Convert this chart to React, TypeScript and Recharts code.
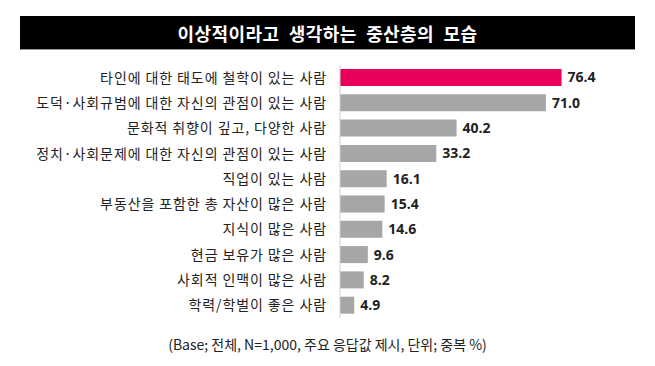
import { BarChart, Bar, XAxis, YAxis, Cell, LabelList } from "recharts";

const categories = [
  "타인에 대한 태도에 철학이 있는 사람",
  "도덕·사회규범에 대한 자신의 관점이 있는 사람",
  "문화적 취향이 깊고, 다양한 사람",
  "정치·사회문제에 대한 자신의 관점이 있는 사람",
  "직업이 있는 사람",
  "부동산을 포함한 총 자산이 많은 사람",
  "지식이 많은 사람",
  "현금 보유가 많은 사람",
  "사회적 인맥이 많은 사람",
  "학력/학벌이 좋은 사람",
];

const values = [76.4, 71.0, 40.2, 33.2, 16.1, 15.4, 14.6, 9.6, 8.2, 4.9];

const title = "이상적이라고 생각하는 중산층의 모습";
const note = "(Base; 전체, N=1,000, 주요 응답값 제시, 단위; 중복 %)";

const data = categories.map((name, i) => ({ name, value: values[i] }));

const KR = '"Noto Sans CJK KR", "Noto Sans", sans-serif';

export default function App() {
  return (
    <div
      style={{
        position: "fixed",
        left: 0,
        top: 0,
        width: 655,
        height: 366,
        background: "#fff",
        fontFamily: KR,
      }}
    >
      <div
        style={{
          position: "absolute",
          left: 20,
          top: 16,
          width: 615,
          height: 33,
          background: "#000",
          borderBottom: "1px solid #999",
          color: "#fff",
          fontSize: 18,
          fontWeight: 700,
          letterSpacing: 0.4,
          wordSpacing: 5,
          display: "flex",
          alignItems: "center",
          justifyContent: "center",
        }}
      >
        {title}
      </div>
      <div style={{ position: "absolute", left: 0, top: 65 }}>
        <BarChart
          layout="vertical"
          width={655}
          height={253}
          data={data}
          margin={{ top: 0, right: 25, bottom: 0, left: 0 }}
          barCategoryGap={8}
        >
          <XAxis type="number" domain={[0, 100]} hide />
          <YAxis
            type="category"
            dataKey="name"
            width={340}
            axisLine={{ stroke: "#d0d0d0" }}
            tickLine={false}
            tickMargin={7}
            interval={0}
            tick={{ fill: "#222", fontSize: 14, fontFamily: KR, letterSpacing: 0.9 }}
          />
          <Bar dataKey="value" barSize={17} isAnimationActive={false}>
            {data.map((d, i) => (
              <Cell key={d.name} fill={i === 0 ? "#E8005A" : "#A6A6A6"} />
            ))}
            <LabelList
              dataKey="value"
              position="right"
              offset={6}
              formatter={(v: any) => Number(v).toFixed(1)}
              style={{
                fill: "#222",
                fontSize: 14,
                fontWeight: 700,
                fontFamily: '"Open Sans", sans-serif',
              }}
            />
          </Bar>
        </BarChart>
      </div>
      <div
        style={{
          position: "absolute",
          left: 0,
          top: 334,
          width: 655,
          textAlign: "center",
          fontSize: 14,
          color: "#222",
        }}
      >
        {note}
      </div>
    </div>
  );
}
